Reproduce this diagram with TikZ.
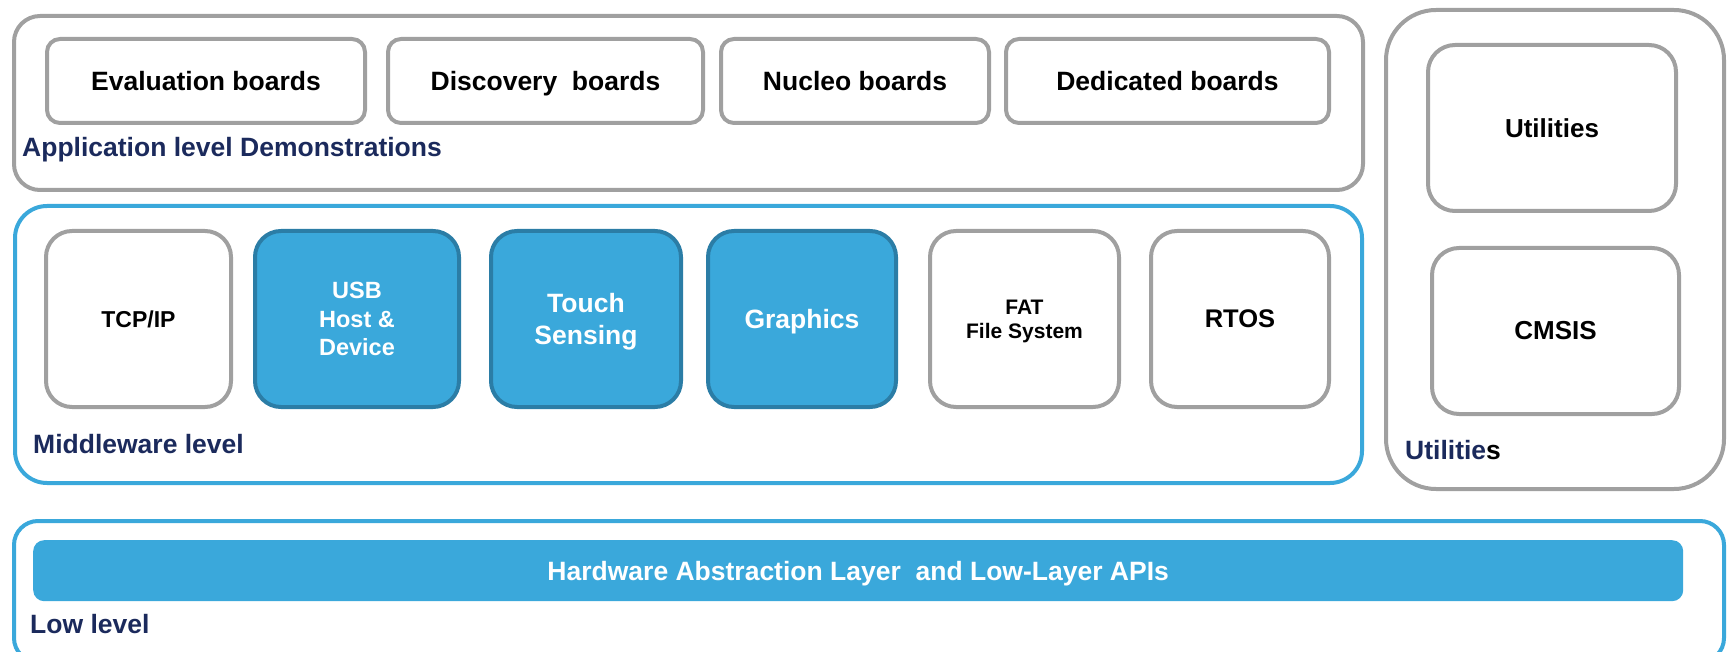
\documentclass[tikz,border=0pt]{standalone}
\usepackage{fontspec}
\setmainfont{Liberation Sans}
\definecolor{stblue}{HTML}{3AA8DB}
\definecolor{stdark}{HTML}{2B7DA6}
\definecolor{stgray}{HTML}{A0A0A0}
\definecolor{stnavy}{HTML}{1B2A5C}
\tikzset{
  layer/.style={draw, line width=4pt, anchor=north west, inner sep=0pt},
  board/.style={draw=stgray, line width=4pt, rounded corners=13pt, anchor=north west,
    inner sep=0pt, text depth=0pt, minimum height=84pt, font=\bfseries\fontsize{26.5}{32}\selectfont},
  midbox/.style={draw=stgray, line width=4pt, rounded corners=26pt, anchor=north west,
    inner sep=0pt, text depth=0pt, minimum height=176pt, align=center},
  bluebox/.style={midbox, draw=stdark, fill=stblue, text=white},
  utilbox/.style={draw=stgray, line width=4pt, rounded corners=27pt, anchor=north west,
    inner sep=0pt, minimum height=166pt, font=\bfseries\fontsize{26}{31}\selectfont},
  layerlabel/.style={anchor=base west, inner sep=0pt, text=stnavy,
    font=\bfseries\fontsize{26.5}{32}\selectfont},
}
\begin{document}
\begin{tikzpicture}[x=1pt,y=-1pt]
  \useasboundingbox (0,0) rectangle (1727,652);
  % application level
  \node[layer, draw=stgray, rounded corners=26pt, minimum width=1349pt, minimum height=174pt] (applevel) at (12,14) {};
  \node[board, minimum width=318pt] (evalboards) at (45,37) {Evaluation boards};
  \node[board, minimum width=315pt] (discoboards) at (386,37) {Discovery\ \ boards};
  \node[board, minimum width=268pt] (nucleoboards) at (719,37) {Nucleo boards};
  \node[board, minimum width=323pt] (dedicboards) at (1004,37) {Dedicated boards};
  \node[layerlabel] (applabel) at (22,157) {Application level Demonstrations};
  % middleware level
  \node[layer, draw=stblue, rounded corners=32pt, minimum width=1347pt, minimum height=277pt] (midlevel) at (13,204) {};
  \node[midbox, minimum width=185pt, font=\bfseries\fontsize{23}{28}\selectfont] (tcpip) at (44,229) {TCP/IP};
  \node[bluebox, minimum width=204pt, font=\bfseries\fontsize{23.5}{28.5}\selectfont] (usb) at (253,229) {USB\\Host \&\\Device};
  \node[bluebox, minimum width=190pt, font=\bfseries\fontsize{26.5}{32}\selectfont] (touch) at (489,229) {Touch\\Sensing};
  \node[bluebox, minimum width=188pt, font=\bfseries\fontsize{26.5}{32}\selectfont] (graphics) at (706,229) {Graphics};
  \node[midbox, minimum width=189pt, font=\bfseries\fontsize{21}{24}\selectfont] (fatfs) at (928,229) {FAT\\File System};
  \node[midbox, minimum width=178pt, font=\bfseries\fontsize{25.5}{30}\selectfont] (rtos) at (1149,229) {RTOS};
  \node[layerlabel] (midlabel) at (33,453) {Middleware level};
  % utilities
  \node[layer, draw=stgray, rounded corners=50pt, minimum width=338pt, minimum height=479pt] (utillevel) at (1384,8) {};
  \node[utilbox, minimum width=248pt] (utilities) at (1426,43) {Utilities};
  \node[utilbox, minimum width=247pt] (cmsis) at (1430,246) {CMSIS};
  \node[layerlabel] (utillabel) at (1405,459) {Utilitie\textcolor{black}{s}};
  % low level
  \node[layer, draw=stblue, rounded corners=24pt, minimum width=1710pt, minimum height=141pt] (lowlevel) at (12,519) {};
  \node[anchor=north west, fill=stblue, rounded corners=11pt, inner sep=0pt, text depth=0pt, minimum width=1650pt, minimum height=61pt,
    text=white, font=\bfseries\fontsize{26.5}{32}\selectfont] (hal) at (33,540) {Hardware Abstraction Layer\ \ and Low-Layer APIs};
  \node[layerlabel] (lowlabel) at (30,633) {Low level};
\end{tikzpicture}
\end{document}
